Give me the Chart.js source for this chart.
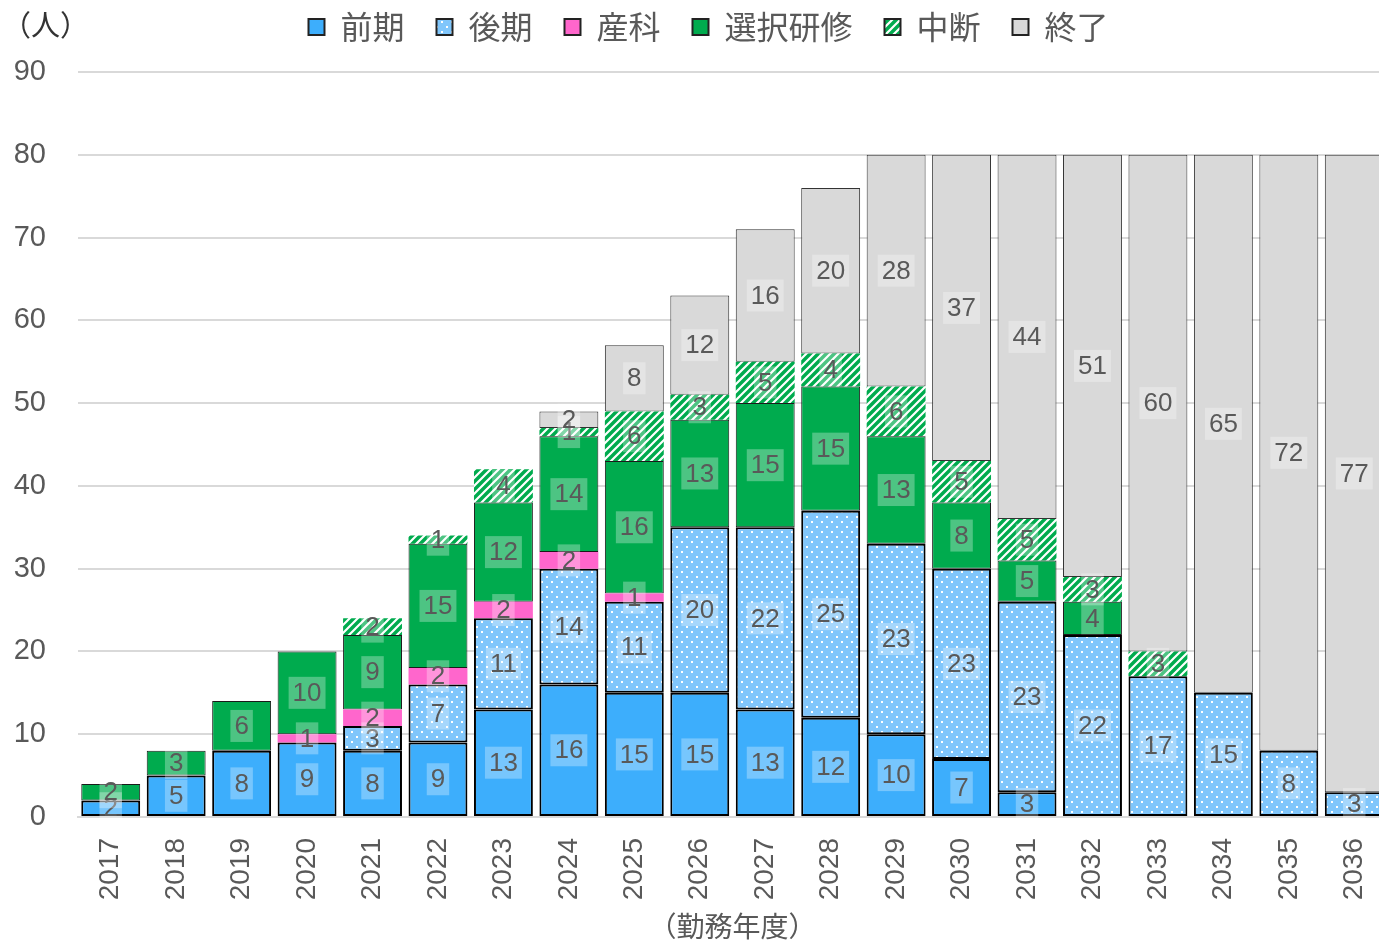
<!DOCTYPE html>
<html>
<head>
<meta charset="utf-8">
<script src="https://cdn.jsdelivr.net/npm/chart.js@4/dist/chart.umd.min.js"></script>
<style>
  html, body { margin: 0; padding: 0; background: #fff; overflow: hidden; }
  #wrap { width: 1379px; height: 943px; overflow: hidden; }
</style>
</head>
<body>
<div id="wrap"><canvas id="chart" width="1387" height="943"></canvas></div>
<script>
const years = ["2017","2018","2019","2020","2021","2022","2023","2024","2025","2026",
               "2027","2028","2029","2030","2031","2032","2033","2034","2035","2036"];
const zenki   = [2, 5, 8, 9, 8, 9, 13, 16, 15, 15, 13, 12, 10, 7, 3, 0, 0, 0, 0, 0];
const kouki   = [0, 0, 0, 0, 3, 7, 11, 14, 11, 20, 22, 25, 23, 23, 23, 22, 17, 15, 8, 3];
const sanka   = [0, 0, 0, 1, 2, 2, 2, 2, 1, 0, 0, 0, 0, 0, 0, 0, 0, 0, 0, 0];
const sentaku = [2, 3, 6, 10, 9, 15, 12, 14, 16, 13, 15, 15, 13, 8, 5, 4, 0, 0, 0, 0];
const chudan  = [0, 0, 0, 0, 2, 1, 4, 1, 6, 3, 5, 4, 6, 5, 5, 3, 3, 0, 0, 0];
const shuryo  = [0, 0, 0, 0, 0, 0, 0, 2, 8, 12, 16, 20, 28, 37, 44, 51, 60, 65, 72, 77];
const yTicks  = [0, 10, 20, 30, 40, 50, 60, 70, 80, 90];

const FONT = "'Liberation Sans', 'Noto Sans CJK JP', sans-serif";
const JP = "'Noto Sans CJK JP', sans-serif";
const TEXT = "#595959";

// 後期: 水色に白い点
function dotPattern() {
  const c = document.createElement("canvas");
  c.width = 10; c.height = 10;
  const g = c.getContext("2d");
  g.fillStyle = "#80c6fb";
  g.fillRect(0, 0, 10, 10);
  g.fillStyle = "#ffffff";
  g.fillRect(1, 1, 2, 2);
  g.fillRect(6, 6, 2, 2);
  return g.createPattern(c, "repeat");
}

// 中断: 緑の斜線
function stripePattern() {
  const c = document.createElement("canvas");
  c.width = 8; c.height = 8;
  const g = c.getContext("2d");
  g.fillStyle = "#00ab4e";
  g.fillRect(0, 0, 8, 8);
  g.strokeStyle = "#ffffff";
  g.lineWidth = 2.2;
  g.beginPath();
  g.moveTo(-2, 10); g.lineTo(10, -2);
  g.moveTo(-6, 6); g.lineTo(6, -6);
  g.moveTo(2, 14); g.lineTo(14, 2);
  g.stroke();
  return g.createPattern(c, "repeat");
}

const segLabels = {
  id: "segLabels",
  afterDatasetsDraw(chart) {
    const ctx = chart.ctx;
    ctx.save();
    ctx.font = "26px " + FONT;
    ctx.textAlign = "center";
    ctx.textBaseline = "middle";
    chart.data.datasets.forEach((ds, i) => {
      const meta = chart.getDatasetMeta(i);
      meta.data.forEach((bar, j) => {
        const v = ds.data[j];
        if (!v) return;
        const cy = (bar.y + bar.base) / 2;
        const w = ctx.measureText(String(v)).width + 8;
        ctx.fillStyle = "rgba(255,255,255,0.3)";
        ctx.fillRect(bar.x - w / 2, cy - 16, w, 32);
        ctx.fillStyle = TEXT;
        ctx.fillText(String(v), bar.x, cy + 1);
      });
    });
    ctx.restore();
  }
};

// 凡例の位置と高さを調整
const legendTweak = {
  id: "legendTweak",
  beforeUpdate(chart) {
    const lg = chart.legend;
    if (lg && !lg._tweaked) {
      const fit = lg.fit;
      lg.fit = function () { fit.call(this); this.height = 66; };
      lg._tweaked = true;
    }
  },
  afterLayout(chart) {
    chart.legend.left += 11;
    chart.legend.right += 11;
    chart.legend.top -= 27;
    chart.legend.bottom -= 27;
  }
};

const unitTitle = {
  id: "unitTitle",
  afterDraw(chart) {
    const ctx = chart.ctx;
    ctx.save();
    ctx.font = "29px " + JP;
    ctx.fillStyle = "#333";
    ctx.textBaseline = "middle";
    ctx.fillText("（人）", 2, 25);
    ctx.restore();
  }
};

const common = { borderSkipped: false, barPercentage: 0.9, categoryPercentage: 1.0 };

new Chart(document.getElementById("chart"), {
  type: "bar",
  data: {
    labels: years,
    datasets: [
      { label: "前期", data: zenki, backgroundColor: "#3daefc", borderColor: "#000", borderWidth: 2, ...common },
      { label: "後期", data: kouki, backgroundColor: dotPattern(), borderColor: "#000", borderWidth: 2, ...common },
      { label: "産科", data: sanka, backgroundColor: "#ff66cc", borderColor: "#333", borderWidth: 0, ...common },
      { label: "選択研修", data: sentaku, backgroundColor: "#00ab4e", borderColor: "#1a1a1a", borderWidth: 1, ...common },
      { label: "中断", data: chudan, backgroundColor: stripePattern(), borderColor: "#00ab4e", borderWidth: 0, ...common },
      { label: "終了", data: shuryo, backgroundColor: "#d9d9d9", borderColor: "#333", borderWidth: 1, ...common }
    ]
  },
  options: {
    responsive: false,
    animation: false,
    layout: { padding: { left: 8, right: 0, top: 6, bottom: 0 } },
    plugins: {
      legend: {
        position: "top",
        labels: {
          font: { size: 32, family: JP },
          color: TEXT,
          boxWidth: 16,
          boxHeight: 16,
          padding: 32,
          generateLabels(chart) {
            const items = Chart.defaults.plugins.legend.labels.generateLabels(chart);
            items.forEach(it => { it.lineWidth = 2; it.strokeStyle = "#222"; });
            return items;
          }
        }
      },
      tooltip: { enabled: false }
    },
    scales: {
      x: {
        stacked: true,
        afterFit(axis) { axis.height = 126; axis.paddingLeft = 0; axis.paddingRight = 0; },
        grid: { display: false, drawTicks: false },
        border: { color: "#d9d9d9", width: 2 },
        ticks: { color: TEXT, font: { size: 28, family: FONT }, maxRotation: 90, minRotation: 90, padding: 21 },
        title: { display: true, text: "（勤務年度）", color: TEXT, font: { size: 28, family: JP }, padding: { top: 0, bottom: 0 } }
      },
      y: {
        stacked: true,
        min: 0,
        max: 90,
        afterBuildTicks(axis) { axis.ticks = yTicks.map(v => ({ value: v })); },
        afterFit(axis) { axis.width = 70; axis.paddingTop = 0; axis.paddingBottom = 0; },
        grid: { color: "#d9d9d9", lineWidth: 2, drawTicks: false },
        border: { display: false },
        ticks: { color: TEXT, font: { size: 29, family: FONT }, padding: 32 }
      }
    }
  },
  plugins: [segLabels, legendTweak, unitTitle]
});
</script>
</body>
</html>
